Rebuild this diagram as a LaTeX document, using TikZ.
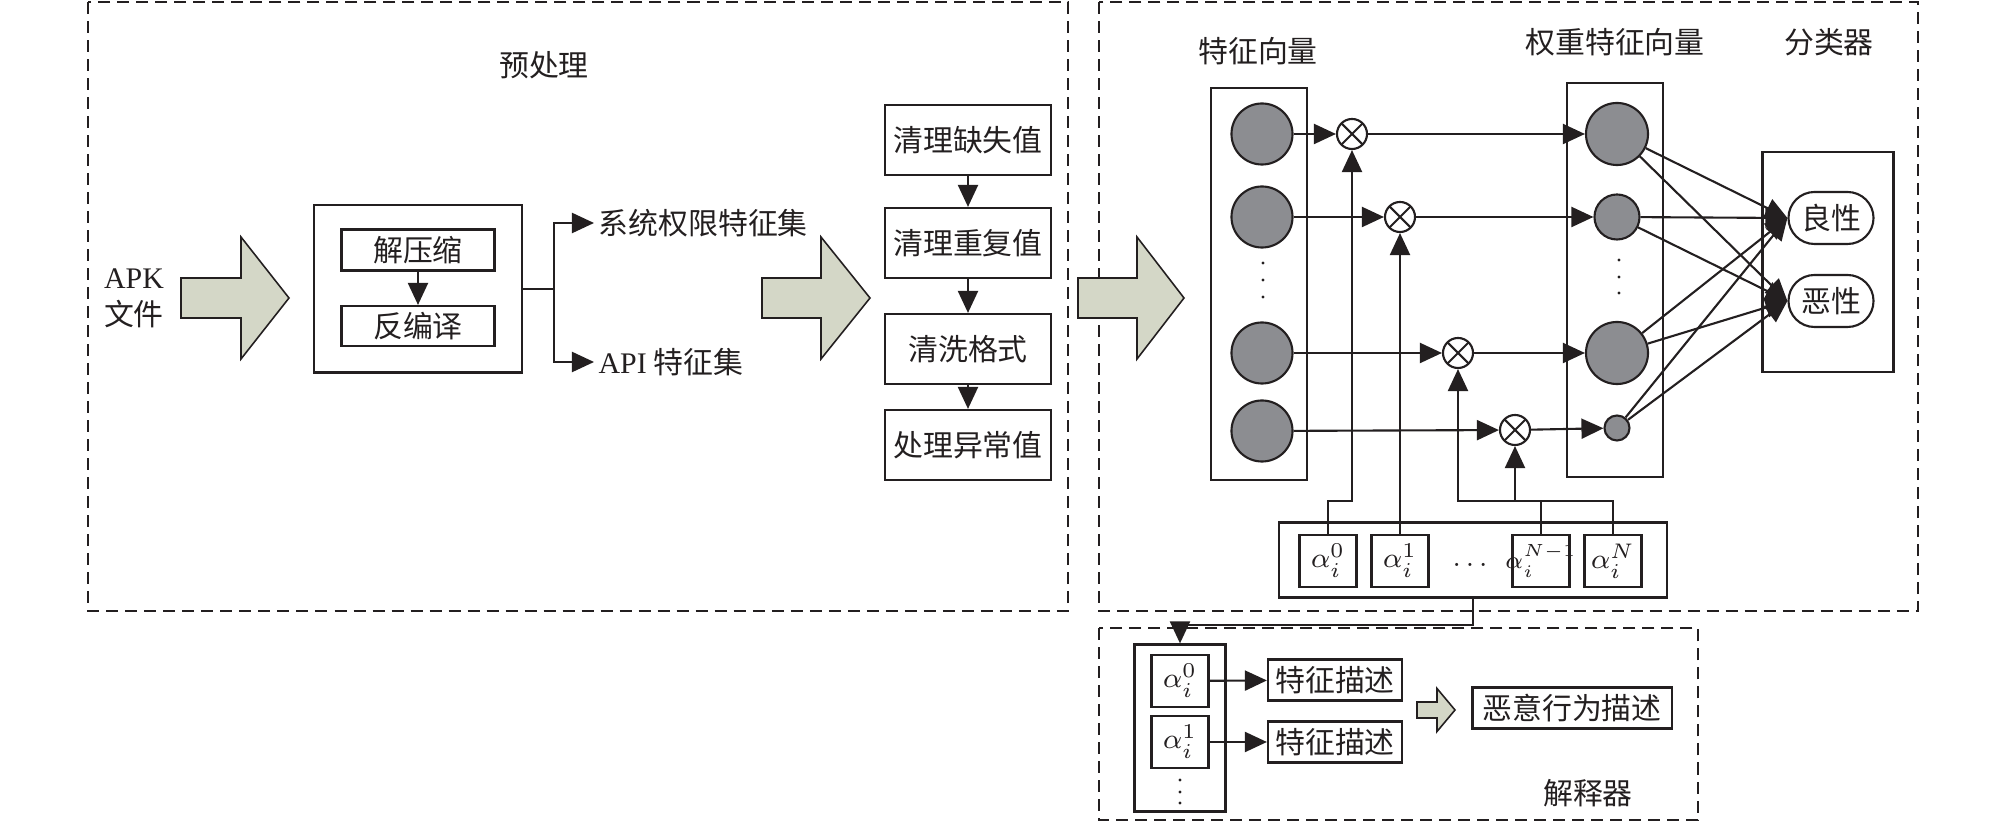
\documentclass[tikz,border=0pt]{standalone}
\usepackage{fontspec}
\setmainfont{Liberation Serif}
\newfontfamily\zhfont{Noto Sans CJK SC}
\usetikzlibrary{arrows.meta, positioning}
\definecolor{neuronc}{RGB}{140,141,145}
\definecolor{arrowc}{RGB}{212,215,199}
\definecolor{linec}{RGB}{35,31,32}

\begin{document}
\begin{tikzpicture}[x=0.01cm, y=-0.01cm, >={Triangle[length=0.22cm, width=0.2cm]}, line width=0.6pt, color=linec,
  every node/.style={font=\zhfont\fontsize{8.5}{10.5}\selectfont},
  frame/.style={draw, dash pattern=on 0.12cm off 0.07cm},
  box/.style={draw, rectangle, inner sep=0pt},
  alpha/.style={draw, rectangle, inner sep=0pt, minimum width=0.57cm, minimum height=0.52cm, font=\fontsize{8}{9}\selectfont},
  neuron/.style={draw, circle, fill=neuronc, inner sep=0pt},
  mult/.style={draw, circle, fill=white, inner sep=0pt, minimum size=0.3cm,
    path picture={\draw (path picture bounding box.north west) -- (path picture bounding box.south east)
      (path picture bounding box.south west) -- (path picture bounding box.north east);}},
  fat/.style={draw, fill=arrowc, line width=0.45pt, line join=miter},
  result/.style={draw, rectangle, rounded corners=0.26cm, inner sep=0pt, minimum width=0.85cm, minimum height=0.52cm}]

  \useasboundingbox (0,0) rectangle (2008,822);

  \draw [frame] (88,2) rectangle (1068,611);
  \draw [frame] (1099,2) rectangle (1918,611);
  \draw [frame] (1099,628) rectangle (1698,820);

  \node (pretitle) at (544,65) {预处理};
  \node (vectitle) at (1258,51) {特征向量};
  \node (wtitle) at (1615,42) {权重特征向量};
  \node (clstitle) at (1829,42) {分类器};
  \node (exptitle) at (1588,793) {解释器};

  \node [align=left, anchor=west, inner sep=0pt] (apk) at (103,298) {{\rmfamily APK}\\文件};
  \draw [fat, shift={(181,298)}] (0,-20) -- (60,-20) -- (60,-61) -- (108,0) -- (60,61) -- (60,20) -- (0,20) -- cycle;

  \node [box, minimum width=2.07cm, minimum height=1.67cm] (decomp) at (418,289) {};
  \node [box, minimum width=1.53cm, minimum height=0.41cm] (unzip) at (418,250) {解压缩};
  \node [box, minimum width=1.53cm, minimum height=0.40cm] (decompile) at (418,326) {反编译};
  \node [anchor=west, inner sep=1pt] (permset) at (594,223) {系统权限特征集};
  \node [anchor=west, inner sep=1pt] (apiset) at (594,362) {{\rmfamily API} 特征集};

  \draw [->] (unzip) -- (decompile);
  \draw [->] (decomp.east) -- ++(31,0) |- (permset.west);
  \draw [->] (decomp.east) -- ++(31,0) |- (apiset.west);

  \draw [fat, shift={(762,298)}] (0,-20) -- (59,-20) -- (59,-61) -- (108,0) -- (59,61) -- (59,20) -- (0,20) -- cycle;

  \node [box, minimum width=1.66cm, minimum height=0.70cm] (clean1) at (968,140) {清理缺失值};
  \node [box, minimum width=1.66cm, minimum height=0.70cm] (clean2) at (968,243) {清理重复值};
  \node [box, minimum width=1.66cm, minimum height=0.70cm] (clean3) at (968,349) {清洗格式};
  \node [box, minimum width=1.66cm, minimum height=0.70cm] (clean4) at (968,445) {处理异常值};

  \draw [->] (clean1) -- (clean2);
  \draw [->] (clean2) -- (clean3);
  \draw [->] (clean3) -- (clean4);

  \draw [fat, shift={(1078,298)}] (0,-20) -- (59,-20) -- (59,-61) -- (106,0) -- (59,61) -- (59,20) -- (0,20) -- cycle;

  \node [box, minimum width=0.96cm, minimum height=3.92cm] (fvec) at (1259,284) {};
  \node [neuron, minimum size=0.61cm] (f1) at (1262,134) {};
  \node [neuron, minimum size=0.61cm] (f2) at (1262,217) {};
  \node [neuron, minimum size=0.61cm] (f3) at (1262,353) {};
  \node [neuron, minimum size=0.61cm] (f4) at (1262,431) {};
  \foreach \y in {263,280,297} \fill (1263,\y) circle (1.7);

  \node [mult] (m1) at (1352,134) {};
  \node [mult] (m2) at (1400,217) {};
  \node [mult] (m3) at (1458,353) {};
  \node [mult] (m4) at (1515,430) {};

  \node [box, minimum width=0.96cm, minimum height=3.93cm] (wvec) at (1615,280) {};
  \node [neuron, minimum size=0.62cm] (w1) at (1617,134) {};
  \node [neuron, minimum size=0.45cm] (w2) at (1617,217) {};
  \node [neuron, minimum size=0.62cm] (w3) at (1617,353) {};
  \node [neuron, minimum size=0.25cm] (w4) at (1617,428) {};
  \foreach \y in {260,277,293} \fill (1619,\y) circle (1.7);

  \draw [->] (f1) -- (m1);
  \draw [->] (f2) -- (m2);
  \draw [->] (f3) -- (m3);
  \draw [->] (f4) -- (m4);
  \draw [->] (m1) -- (w1);
  \draw [->] (m2) -- (w2);
  \draw [->] (m3) -- (w3);
  \draw [->] (m4) -- (w4);

  \node [box, minimum width=1.31cm, minimum height=2.19cm] (cls) at (1828,262) {};
  \node [result] (benign) at (1831,218) {良性};
  \node [result] (malign) at (1831,301) {恶性};

  \draw [->] (w1) -- (benign.west);
  \draw [->] (w1) -- (malign.west);
  \draw [->] (w2) -- (benign.west);
  \draw [->] (w2) -- (malign.west);
  \draw [->] (w3) -- (benign.west);
  \draw [->] (w3) -- (malign.west);
  \draw [->] (w4) -- (benign.west);
  \draw [->] (w4) -- (malign.west);

  \node [box, minimum width=3.87cm, minimum height=0.75cm] (abox) at (1473,560) {};
  \node [alpha] (a0) at (1328,561) {$\alpha_i^0$};
  \node [alpha] (a1) at (1400,561) {$\alpha_i^1$};
  \node [font=\fontsize{8}{9}\selectfont] (adots) at (1470,565) {$\dots$};
  \node [alpha, font=\fontsize{6.8}{8}\selectfont] (aM) at (1541,561) {\makebox[0pt]{$\alpha_i^{N-1}$}};
  \node [alpha] (aN) at (1613,561) {$\alpha_i^N$};
  \coordinate (bus) at (1458,502);

  \draw [->] (a0.north) -- ++(0,-33) -| (m1.south);
  \draw [->] (a1.north) -- (m2.south);
  \draw [->] (aN.north) -- ++(0,-33) -| (m3.south);
  \draw (aM.north) -- (aM.north |- bus);
  \draw [->] (bus -| m4.south) -- (m4.south);

  \node [box, minimum width=0.91cm, minimum height=1.67cm] (ecol) at (1180,728) {};
  \node [alpha] (e0) at (1180,681) {$\alpha_i^0$};
  \node [alpha] (e1) at (1180,742) {$\alpha_i^1$};
  \foreach \y in {780,792,803} \fill (1180,\y) circle (1.7);
  \node [box, minimum width=1.34cm, minimum height=0.41cm] (desc0) at (1335,680) {特征描述};
  \node [box, minimum width=1.34cm, minimum height=0.41cm] (desc1) at (1335,742) {特征描述};
  \node [box, minimum width=1.99cm, minimum height=0.41cm] (malice) at (1572,708) {恶意行为描述};

  \draw [->] (abox.south) -- ++(0,26) -| (ecol.north);
  \draw [->] (e0) -- (desc0);
  \draw [->] (e1) -- (desc1);
  \draw [fat, shift={(1417,710)}] (0,-8) -- (20,-8) -- (20,-21.5) -- (38,0) -- (20,21.5) -- (20,8) -- (0,8) -- cycle;
\end{tikzpicture}
\end{document}
